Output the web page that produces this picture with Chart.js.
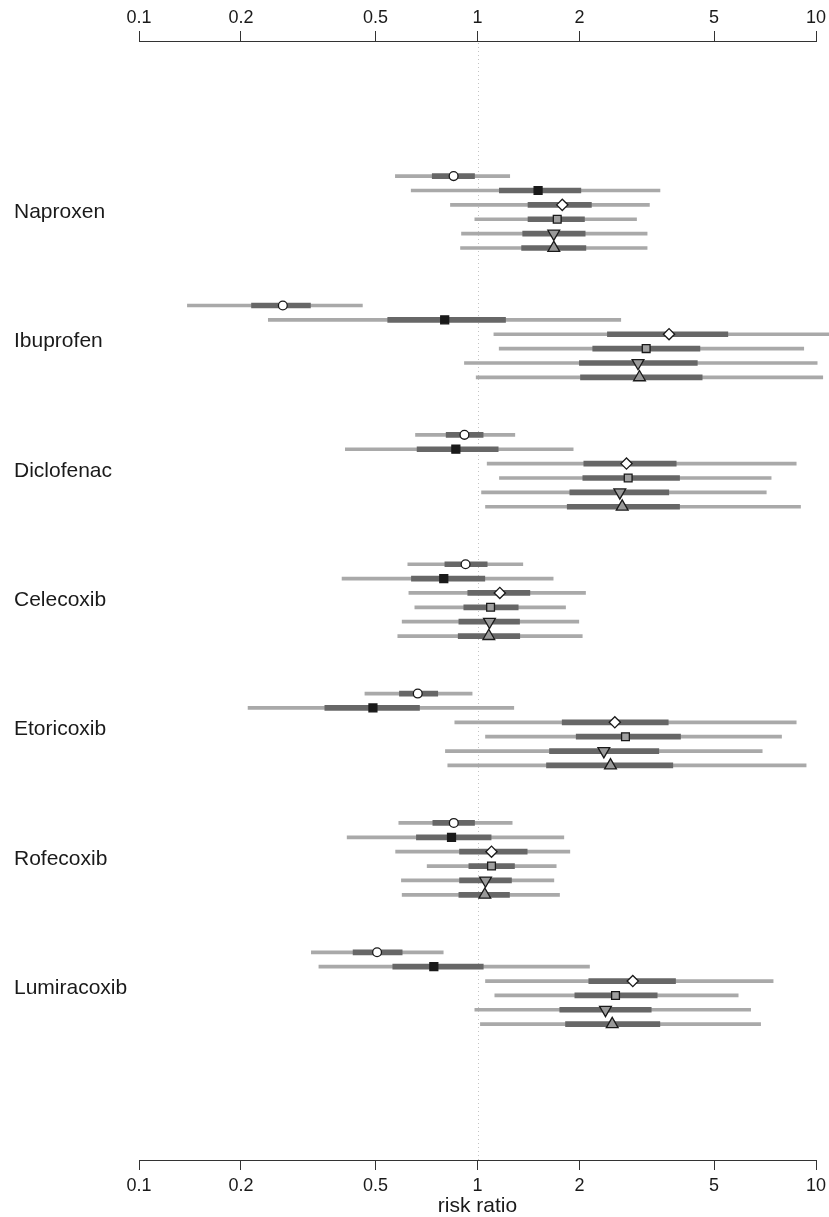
<!DOCTYPE html>
<html><head><meta charset="utf-8">
<script src="https://cdn.jsdelivr.net/npm/chart.js@4/dist/chart.umd.min.js"></script>
<style>html,body{margin:0;padding:0;background:#fff}#wrap{width:829px;height:1217px}</style>
</head><body><div id="wrap"><canvas id="c" width="829" height="1217"></canvas></div>
<script>
const drugs = ['Naproxen','Ibuprofen','Diclofenac','Celecoxib','Etoricoxib','Rofecoxib','Lumiracoxib'];
// series order within each drug: circle, filled square, diamond, square, down-triangle, up-triangle
const estimate = [
  [0.85, 1.51, 1.78, 1.72, 1.68, 1.68],
  [0.266, 0.80, 3.68, 3.15, 2.98, 3.01],
  [0.915, 0.863, 2.755, 2.787, 2.633, 2.676],
  [0.922, 0.795, 1.164, 1.093, 1.085, 1.080],
  [0.666, 0.491, 2.545, 2.736, 2.362, 2.471],
  [0.851, 0.838, 1.10, 1.10, 1.056, 1.051],
  [0.505, 0.743, 2.876, 2.557, 2.388, 2.50]
];
const innerLow = [
  [0.735, 1.16, 1.41, 1.41, 1.36, 1.35],
  [0.215, 0.543, 2.42, 2.19, 2.0, 2.015],
  [0.808, 0.663, 2.061, 2.047, 1.874, 1.841],
  [0.801, 0.638, 0.936, 0.911, 0.881, 0.877],
  [0.588, 0.354, 1.779, 1.957, 1.632, 1.599],
  [0.738, 0.66, 0.885, 0.943, 0.885, 0.881],
  [0.429, 0.562, 2.132, 1.939, 1.75, 1.82]
];
const innerHigh = [
  [0.98, 2.02, 2.17, 2.07, 2.08, 2.09],
  [0.321, 1.21, 5.49, 4.54, 4.46, 4.61],
  [1.039, 1.151, 3.864, 3.953, 3.674, 3.953],
  [1.068, 1.051, 1.428, 1.319, 1.331, 1.333],
  [0.763, 0.674, 3.66, 3.979, 3.433, 3.776],
  [0.98, 1.097, 1.402, 1.286, 1.26, 1.243],
  [0.599, 1.04, 3.846, 3.395, 3.26, 3.457]
];
const outerLow = [
  [0.572, 0.637, 0.832, 0.982, 0.897, 0.891],
  [0.139, 0.241, 1.118, 1.159, 0.915, 0.991],
  [0.656, 0.407, 1.068, 1.161, 1.028, 1.056],
  [0.6225, 0.398, 0.627, 0.653, 0.599, 0.5815],
  [0.465, 0.210, 0.857, 1.056, 0.804, 0.817],
  [0.5855, 0.412, 0.573, 0.710, 0.596, 0.599],
  [0.323, 0.340, 1.056, 1.125, 0.982, 1.02]
];
const outerHigh = [
  [1.245, 3.46, 3.22, 2.95, 3.17, 3.17],
  [0.457, 2.65, 11.0, 9.2, 10.08, 10.47],
  [1.289, 1.917, 8.74, 7.37, 7.13, 9.0],
  [1.361, 1.673, 2.085, 1.82, 1.992, 2.039],
  [0.964, 1.280, 8.74, 7.91, 6.935, 9.35],
  [1.266, 1.799, 1.874, 1.708, 1.681, 1.747],
  [0.792, 2.142, 7.47, 5.89, 6.41, 6.86]
];
const tickValues = [0.1, 0.2, 0.5, 1, 2, 5, 10];
const tickLabels = ['0.1', '0.2', '0.5', '1', '2', '5', '10'];
const axisTitle = 'risk ratio';

const ROWS_PER_GROUP = 9;
const rowOf = (g, k) => g * ROWS_PER_GROUP + k;

const lightData = [], darkData = [];
drugs.forEach((d, g) => {
  for (let k = 0; k < 6; k++) {
    lightData.push({ y: rowOf(g, k), x: [outerLow[g][k], outerHigh[g][k]] });
    darkData.push({ y: rowOf(g, k), x: [innerLow[g][k], innerHigh[g][k]] });
  }
});
const markerStyles = [
  { pointStyle: 'circle', radius: 4.4, bg: '#ffffff', border: '#1a1a1a', rot: 0 },
  { pointStyle: 'rect', radius: 5.6, bg: '#1a1a1a', border: '#1a1a1a', rot: 0 },
  { pointStyle: 'rectRot', radius: 5.6, bg: '#ffffff', border: '#1a1a1a', rot: 0 },
  { pointStyle: 'rect', radius: 5.5, bg: '#a0a0a0', border: '#1a1a1a', rot: 0 },
  { pointStyle: 'triangle', radius: 6.8, bg: '#999999', border: '#1a1a1a', rot: 180 },
  { pointStyle: 'triangle', radius: 6.8, bg: '#999999', border: '#1a1a1a', rot: 0 }
];
const markerSets = markerStyles.map((m, k) => ({
  type: 'scatter',
  data: drugs.map((d, g) => ({ x: estimate[g][k], y: rowOf(g, k) })),
  pointStyle: m.pointStyle,
  pointRadius: m.radius,
  pointBackgroundColor: m.bg,
  pointBorderColor: m.border,
  pointBorderWidth: 1.3,
  pointRotation: m.rot,
  showLine: false,
  clip: false,
  order: 0,
  xAxisID: 'x', yAxisID: 'y'
}));

const refLine = {
  id: 'refLine',
  beforeDatasetsDraw(chart) {
    const { ctx, chartArea, scales } = chart;
    const x = Math.round(scales.x.getPixelForValue(1)) + 0.5;
    ctx.save();
    ctx.strokeStyle = '#c4c4c4';
    ctx.lineWidth = 1;
    ctx.setLineDash([1, 3]);
    ctx.beginPath();
    ctx.moveTo(x, chartArea.top + 2);
    ctx.lineTo(x, chartArea.bottom);
    ctx.stroke();
    ctx.restore();
  }
};
const groupLabels = {
  id: 'groupLabels',
  afterDraw(chart) {
    const { ctx, scales } = chart;
    ctx.save();
    ctx.fillStyle = '#1a1a1a';
    ctx.font = '21px "Liberation Sans", Arial, sans-serif';
    ctx.textAlign = 'left';
    ctx.textBaseline = 'middle';
    drugs.forEach((d, g) => {
      ctx.fillText(d, 14, scales.y.getPixelForValue(rowOf(g, 2.5)));
    });
    ctx.restore();
  }
};

const tickFont = { family: '"Liberation Sans", Arial, sans-serif', size: 18, lineHeight: 1.2 };
function logAxis(position, height, pad) {
  return {
    type: 'logarithmic',
    position: position,
    min: 0.1, max: 10,
    offset: false,
    afterBuildTicks: (s) => { s.ticks = tickValues.map(v => ({ value: v })); },
    afterFit: (s) => { s.height = height; s.paddingLeft = 0; s.paddingRight = 0; },
    ticks: {
      autoSkip: false, maxRotation: 0, minRotation: 0,
      padding: pad, color: '#1a1a1a', font: tickFont,
      callback: (v, i) => tickLabels[i]
    },
    grid: { display: true, offset: false, drawOnChartArea: false, drawTicks: true, tickLength: 10, color: '#333333', lineWidth: 1 },
    border: { display: true, color: '#333333', width: 1 }
  };
}
const xBottom = logAxis('bottom', 57, 5);
xBottom.title = { display: true, text: axisTitle, color: '#1a1a1a', padding: 0,
  font: { family: '"Liberation Sans", Arial, sans-serif', size: 21, lineHeight: 1.0 } };
const xTop = logAxis('top', 41, 2);

new Chart(document.getElementById('c'), {
  type: 'bar',
  data: {
    datasets: [
      { type: 'bar', indexAxis: 'y', data: lightData, backgroundColor: '#a9a9a9', borderWidth: 0,
        barThickness: 3, grouped: false, clip: false, order: 2, xAxisID: 'x', yAxisID: 'y' },
      { type: 'bar', indexAxis: 'y', data: darkData, backgroundColor: '#676767', borderWidth: 0,
        barThickness: 5, grouped: false, clip: false, order: 1, xAxisID: 'x', yAxisID: 'y' },
      ...markerSets
    ]
  },
  options: {
    responsive: false,
    animation: false,
    devicePixelRatio: 1,
    layout: { padding: { left: 139, right: 13, top: 0, bottom: 0 } },
    plugins: { legend: { display: false }, tooltip: { enabled: false } },
    scales: {
      x: xBottom,
      x2: xTop,
      y: { type: 'linear', reverse: true, min: -9.4, max: 68.45, display: false, offset: false }
    }
  },
  plugins: [refLine, groupLabels]
});
</script>
</body></html>
